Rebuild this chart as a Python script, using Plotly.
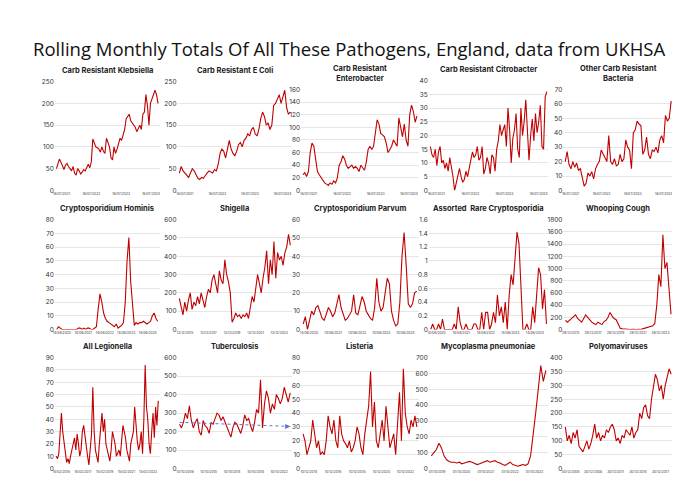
import plotly.graph_objects as go

titles = ["Carb Resistant Klebsiella", "Carb Resistant E Coli", "Carb Resistant<br>Enterobacter",
          "Carb Resistant Citrobacter", "Other Carb Resistant<br>Bacteria",
          "Cryptosporidium Hominis", "Shigella", "Cryptosporidium Parvum", "Assorted  Rare Cryptosporidia",
          "Whooping Cough", "All Legionella", "Tuberculosis", "Listeria", "Mycoplasma pneumoniae", "Polyomaviruses"]

klebsiella = [50,60,72,65,55,48,58,62,55,50,45,55,40,35,50,45,38,42,48,45,55,60,52,65,118,110,100,98,95,88,100,90,85,120,110,100,75,70,100,85,95,110,120,115,125,140,165,170,175,160,155,150,145,135,145,150,140,175,180,220,195,150,200,210,225,230,220,200]
ecoli = [40,55,45,40,35,30,40,50,45,35,28,25,30,28,35,40,45,42,40,48,45,60,85,95,90,75,100,115,95,85,80,90,105,110,100,115,120,130,125,140,145,130,125,140,165,180,170,150,155,140,150,195,200,210,220,200,215,230,190,175,180]
enterobacter = [25,28,22,30,60,75,70,50,30,25,20,15,12,10,8,12,10,15,12,20,40,45,55,50,40,35,38,40,35,38,35,30,40,35,32,45,65,70,65,70,90,112,105,90,88,85,75,60,65,70,80,75,70,115,100,85,105,80,70,120,135,125,108,118]
citrobacter = [16,13,12,15,9,14,16,10,11,8,10,7,12,9,5,0,3,6,8,5,3,4,7,5,8,10,14,12,13,16,11,12,16,6,8,12,10,6,13,12,7,15,18,24,20,22,24,16,30,22,10,19,22,28,15,12,30,20,25,33,20,11,20,26,18,28,21,25,31,16,15,34,36]
other_carb = [20,27,18,15,20,16,19,14,15,10,3,5,12,10,13,8,15,18,20,28,25,22,20,38,20,18,22,17,18,25,20,22,35,30,28,15,40,42,48,46,45,25,28,37,25,22,28,27,30,26,35,38,33,52,48,50,62]
hominis = [0,2,1,0,0,0,0,0,0,0,0,0,1,1,0,1,0,1,1,0,0,1,2,15,26,20,12,8,6,5,4,3,2,4,1,2,3,5,20,50,67,35,15,3,5,4,5,5,6,5,4,5,6,10,12,8,6]
shigella = [170,120,80,150,100,160,200,110,150,130,180,140,200,160,120,180,220,200,270,300,240,200,320,270,250,380,300,260,200,40,60,90,70,80,60,80,70,90,60,120,180,150,240,300,250,200,280,340,430,250,380,300,480,280,420,380,400,350,420,450,520,460]
parvum = [3,7,0,5,10,8,12,13,9,6,5,8,12,10,7,9,15,19,12,8,5,6,8,10,19,9,8,14,18,15,10,8,6,5,12,28,15,10,12,20,28,25,10,5,2,3,15,40,53,35,14,12,14,20,21]
rare_crypto = [0,0.08,0,0,0.08,0,0.15,0,0,0,0,0,0.08,0,0.33,0.1,0,0,0.08,0,0,0,0.08,0.08,0,0,0.25,0,0.25,0.25,0,0.08,0.25,0.1,0.5,0.2,0.33,0.1,0.4,0,0.5,0.8,0.65,1.0,1.42,1.25,0.6,0,0,0.08,0,0,0.33,0.1,0.5,0.9,0.8,0.3,0.58,0.08]
whooping = [150,120,150,180,200,240,180,150,120,180,240,200,160,120,100,80,120,100,80,130,150,200,280,220,180,160,100,20,10,5,5,0,0,5,0,0,5,0,10,20,30,40,50,60,100,400,900,700,1550,1000,1100,600,250]
legionella = [10,8,12,28,45,30,20,15,5,8,4,10,15,20,25,15,28,20,10,15,30,35,25,15,10,3,20,28,66,30,15,10,5,20,35,45,30,40,20,15,10,6,15,30,25,20,10,12,15,10,20,35,30,25,15,10,6,20,25,30,50,35,22,15,20,30,12,40,84,50,40,20,12,30,45,25,50,35,55]
tuberculosis = [240,220,250,300,270,340,260,220,250,270,200,180,260,230,220,190,250,240,270,300,290,260,280,250,230,200,170,220,250,240,210,190,230,290,260,270,230,200,250,320,300,480,220,350,420,380,300,350,320,400,380,350,380,440,400,360,410]
tb_trend = [250, 228]
listeria = [25,20,10,15,20,35,25,15,20,10,12,10,20,38,30,25,35,20,15,38,25,20,18,15,20,12,15,20,30,25,15,10,25,35,45,70,30,48,20,15,25,35,20,45,30,15,20,25,10,30,55,20,72,40,30,25,35,30,38,30]
mycoplasma = [80,100,120,160,130,80,55,45,40,40,35,40,30,35,40,45,40,30,25,30,35,45,50,40,45,50,40,35,25,20,30,40,25,20,15,20,25,20,30,80,200,350,500,650,550,620]
polyoma = [150,100,120,90,130,110,140,80,70,60,80,100,70,90,120,160,110,130,100,120,110,140,130,150,160,140,100,110,90,120,110,140,130,120,150,110,130,140,200,180,220,230,190,180,250,300,340,320,280,300,250,300,330,360,340]

series = [klebsiella, ecoli, enterobacter, citrobacter, other_carb, hominis, shigella, parvum,
          rare_crypto, whooping, legionella, tuberculosis, listeria, mycoplasma, polyoma]
ymax = [250,250,160,40,70,80,600,60,1.6,1800,90,600,80,700,400]
dticks = [50,50,20,5,10,10,100,10,0.2,200,10,100,10,100,50]
t1 = ["16/07/2021","16/07/2022","16/07/2023","16/07/2024"]
xlabels = [t1, t1, t1, t1, t1,
           ["14/06/2020","14/06/2021","14/06/2022","14/06/2023","14/06/2024"],
           ["13/12/2015","13/12/2017","13/12/2019","13/12/2021","13/12/2023"],
           ["14/06/2020","14/06/2021","14/06/2022","14/06/2023","14/06/2024"],
           ["14/06/2020","14/06/2021","14/06/2022","14/06/2023","14/06/2024"],
           ["29/12/2015","29/12/2017","29/12/2019","29/12/2021","29/12/2023"],
           ["15/02/2015","15/02/2017","15/02/2019","15/02/2021","15/02/2023"],
           ["10/10/2006","10/10/2010","10/10/2014","10/10/2018","10/10/2022"],
           ["10/12/2014","10/12/2016","10/12/2018","10/12/2020","10/12/2022"],
           ["01/10/2019","01/10/2020","01/10/2021","01/10/2022","01/10/2023"],
           ["30/12/2005","30/12/2008","30/12/2011","30/12/2014","30/12/2017"]]

W, H = 680, 503
cols = [(45,150),(168,283),(292,410),(420,540),(555,665)]
rows = [(70,182),(211,323),(351,464)]
tops_row1 = [71,71,79,70,79]

fig = go.Figure()
RED = "#c00000"
for i, s in enumerate(series):
    r, c = divmod(i, 5)
    n = i + 1
    xa = "x" if n == 1 else f"x{n}"
    ya = "y" if n == 1 else f"y{n}"
    top = tops_row1[c] if r == 0 else rows[r][0]
    bot = rows[r][1]
    x0, x1 = cols[c]
    xs = list(range(len(s)))
    fig.add_trace(go.Scatter(x=xs, y=s, mode="lines", line=dict(color=RED, width=1.1),
                             xaxis=xa, yaxis=ya, showlegend=False, hoverinfo="skip"))
    labs = xlabels[i]
    k = len(labs)
    last = len(s) - 1
    start = last * 0.05
    end = last * (0.93 if k == 4 else 0.9)
    tv = [start + j * (end - start) / (k - 1) for j in range(k)]
    fig.update_layout(**{
        ("xaxis" if n == 1 else f"xaxis{n}"): dict(
            domain=[x0 / W, x1 / W], anchor=ya, range=[-1, last + 1],
            tickvals=tv, ticktext=labs, tickfont=dict(size=3.3, family="Inter", color="#333"),
            showgrid=False, zeroline=False, showline=False, ticks="", tickangle=0),
        ("yaxis" if n == 1 else f"yaxis{n}"): dict(
            domain=[1 - bot / H, 1 - top / H], anchor=xa, range=[0, ymax[i] * 1.005],
            dtick=dticks[i], tick0=0, tickfont=dict(size=6.5, family="Inter", color="#333"),
            showgrid=True, gridcolor="#e6e6e6", gridwidth=0.6, zeroline=False, showline=False,
            ticks=""),
    })
    fig.add_annotation(text=f"<b>{titles[i]}</b>", xref="paper", yref="paper",
                       x=(x0 + x1) / 2 / W, y=1 - (top - 4) / H, xanchor="center", yanchor="bottom",
                       showarrow=False, font=dict(size=7.5, family="Inter", color="#222"))

# tuberculosis trend line
fig.add_trace(go.Scatter(x=[0, len(tuberculosis) - 1], y=tb_trend, mode="lines",
                         line=dict(color="#5b6fd6", width=1, dash="dot"),
                         xaxis="x12", yaxis="y12", showlegend=False, hoverinfo="skip"))
fig.add_annotation(x=len(tuberculosis) - 1, y=tb_trend[1], ax=len(tuberculosis) - 3, ay=tb_trend[1],
                   xref="x12", yref="y12", axref="x12", ayref="y12", text="", showarrow=True,
                   arrowhead=2, arrowsize=1, arrowwidth=1, arrowcolor="#5b6fd6")

fig.add_annotation(text="Rolling Monthly Totals Of All These Pathogens, England, data from UKHSA",
                   xref="paper", yref="paper", x=0.5, y=1 - 38 / H, xanchor="center", yanchor="middle",
                   showarrow=False, font=dict(size=18.5, family="Open Sans", color="#111"))

fig.update_layout(width=W, height=H, margin=dict(l=0, r=0, t=0, b=0),
                  paper_bgcolor="white", plot_bgcolor="white")
fig.write_html("out.html")
